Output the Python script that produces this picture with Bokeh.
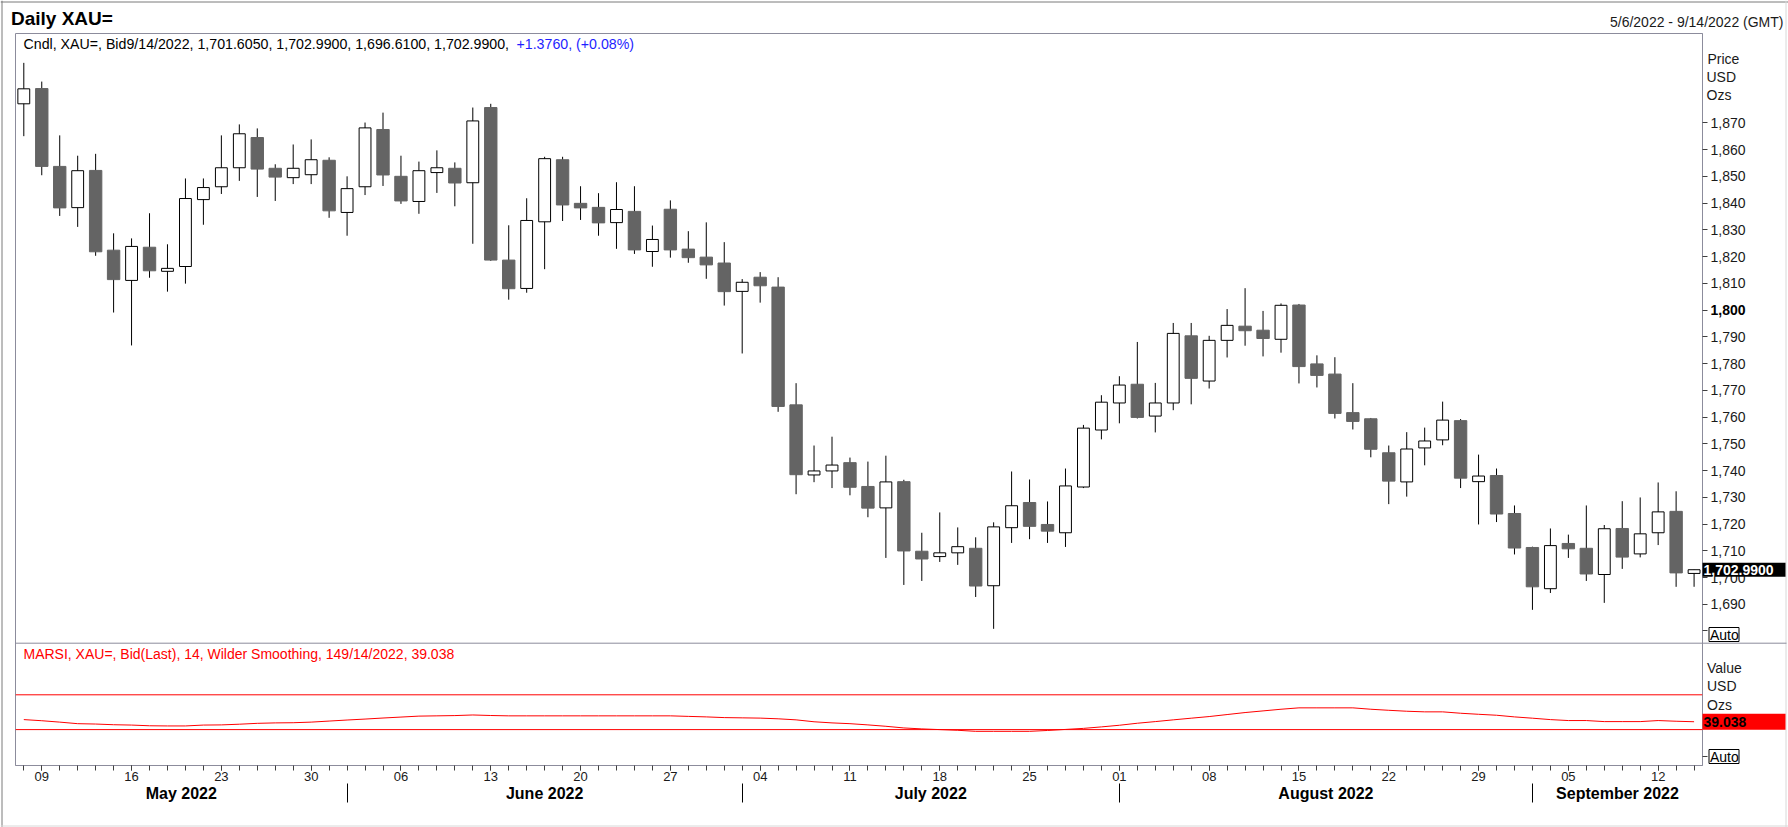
import pandas as pd
from bokeh.plotting import figure
from bokeh.models import (Range1d, LinearAxis, FixedTicker, Span, Label,
                          NumeralTickFormatter, ColumnDataSource)
from bokeh.embed import file_html
from bokeh.resources import INLINE

# ---------------- data ----------------
dates = pd.bdate_range("2022-05-06", "2022-09-14")

opens = [1877.1, 1882.8, 1853.7, 1838.3, 1852.2, 1822.4, 1811.1, 1823.5, 1814.5, 1816.3,
         1841.3, 1846.1, 1853.2, 1864.5, 1853.0, 1849.5, 1850.6, 1856.0, 1836.5, 1846.1,
         1867.5, 1850.0, 1840.6, 1851.4, 1853.0, 1847.6, 1875.7, 1818.7, 1808.1, 1833.0,
         1856.2, 1839.9, 1838.4, 1832.7, 1836.9, 1821.9, 1837.7, 1822.8, 1819.8, 1817.6,
         1807.0, 1812.3, 1808.6, 1764.6, 1738.4, 1739.9, 1743.0, 1734.1, 1726.1, 1735.9,
         1709.9, 1707.9, 1709.3, 1711.0, 1697.0, 1718.7, 1728.1, 1719.9, 1716.8, 1733.9,
         1755.2, 1765.3, 1772.3, 1760.4, 1765.3, 1790.4, 1773.5, 1788.7, 1794.0, 1792.5,
         1789.1, 1801.9, 1779.9, 1776.1, 1761.7, 1759.4, 1746.7, 1735.8, 1748.5, 1751.5,
         1758.7, 1735.9, 1738.2, 1724.0, 1711.3, 1695.9, 1712.8, 1711.0, 1701.2, 1718.4,
         1708.9, 1716.8, 1724.8, 1701.605]
highs = [1892.4, 1885.4, 1865.3, 1857.7, 1858.4, 1828.7, 1826.8, 1836.2, 1824.6, 1849.2,
         1849.2, 1865.3, 1869.4, 1867.9, 1854.5, 1861.9, 1863.8, 1857.1, 1850.0, 1870.1,
         1873.8, 1857.7, 1855.5, 1859.7, 1855.2, 1875.7, 1877.1, 1831.7, 1841.8, 1857.3,
         1857.3, 1846.3, 1843.7, 1847.8, 1846.3, 1831.6, 1841.0, 1829.5, 1832.8, 1825.4,
         1811.6, 1814.2, 1812.3, 1772.7, 1749.4, 1752.7, 1744.9, 1743.4, 1745.6, 1736.6,
         1716.8, 1724.4, 1718.8, 1715.1, 1720.7, 1739.7, 1736.7, 1728.5, 1740.8, 1757.1,
         1768.2, 1775.3, 1788.1, 1772.8, 1795.2, 1795.2, 1790.4, 1800.4, 1808.2, 1799.7,
         1802.5, 1802.3, 1783.1, 1782.4, 1772.7, 1759.7, 1749.4, 1754.4, 1756.1, 1765.8,
         1759.3, 1746.0, 1740.8, 1727.0, 1711.6, 1718.4, 1716.1, 1727.0, 1719.7, 1728.6,
         1730.0, 1735.6, 1732.3, 1702.99]
lows = [1865.0, 1850.4, 1835.2, 1831.1, 1820.3, 1799.1, 1786.8, 1812.1, 1806.9, 1809.9,
        1831.9, 1843.4, 1848.3, 1842.3, 1840.8, 1847.1, 1847.1, 1834.5, 1827.8, 1843.0,
        1846.4, 1839.7, 1836.0, 1843.8, 1838.8, 1824.8, 1818.4, 1803.9, 1806.5, 1815.3,
        1833.3, 1833.7, 1827.8, 1822.9, 1821.0, 1816.2, 1819.6, 1817.7, 1811.7, 1801.7,
        1783.8, 1802.8, 1762.0, 1731.2, 1735.7, 1733.5, 1730.8, 1722.6, 1707.4, 1697.3,
        1698.8, 1705.9, 1704.8, 1692.8, 1680.9, 1713.0, 1714.4, 1713.0, 1711.5, 1733.5,
        1751.7, 1757.7, 1759.5, 1754.3, 1762.6, 1764.8, 1770.7, 1782.3, 1786.7, 1782.7,
        1784.1, 1772.6, 1771.1, 1759.5, 1755.4, 1745.0, 1727.5, 1730.3, 1742.0, 1749.5,
        1733.5, 1719.9, 1720.8, 1708.7, 1688.0, 1694.3, 1707.4, 1698.8, 1690.6, 1703.3,
        1707.6, 1712.2, 1696.6, 1696.61]
closes = [1882.7, 1853.7, 1838.2, 1852.1, 1821.8, 1811.4, 1823.8, 1814.7, 1815.6, 1841.7,
          1845.8, 1853.2, 1865.9, 1852.7, 1849.7, 1853.0, 1856.2, 1837.1, 1845.4, 1868.1,
          1850.5, 1840.8, 1852.1, 1853.2, 1847.5, 1870.7, 1818.7, 1808.0, 1833.5, 1856.6,
          1839.3, 1838.2, 1832.6, 1837.6, 1822.5, 1826.4, 1822.5, 1819.6, 1816.9, 1806.9,
          1810.4, 1809.1, 1764.0, 1738.5, 1739.9, 1742.1, 1733.8, 1726.0, 1735.8, 1710.0,
          1707.0, 1709.3, 1711.6, 1696.9, 1719.0, 1726.9, 1719.2, 1717.4, 1734.3, 1755.9,
          1765.6, 1772.0, 1759.9, 1765.3, 1791.3, 1774.5, 1788.7, 1794.3, 1792.3, 1789.4,
          1801.8, 1778.9, 1775.6, 1761.4, 1758.4, 1748.0, 1736.1, 1748.1, 1751.1, 1758.9,
          1737.2, 1738.0, 1723.8, 1711.1, 1696.6, 1712.0, 1710.8, 1701.4, 1718.3, 1707.7,
          1716.4, 1724.6, 1701.8, 1702.99]
rsi = [41.5, 40.2, 38.6, 36.8, 36.4, 35.6, 35.2, 34.4, 34.2, 34.2,
       35.2, 35.4, 36.2, 37.2, 37.7, 37.9, 38.6, 39.8, 41.0, 42.1,
       43.3, 44.4, 45.5, 45.8, 46.1, 46.8, 46.2, 45.8, 45.8, 45.8,
       45.8, 45.8, 45.8, 45.8, 45.8, 45.8, 45.8, 45.2, 44.6, 43.8,
       43.5, 43.2, 42.4, 41.2, 39.0, 37.7, 36.8, 35.4, 33.8, 31.9,
       30.8, 30.0, 29.2, 28.0, 28.0, 28.0, 28.0, 29.0, 30.2, 31.4,
       33.1, 35.0, 37.3, 39.2, 41.2, 43.1, 45.0, 47.3, 49.6, 51.5,
       53.4, 55.0, 55.0, 55.0, 55.0, 53.4, 52.2, 51.1, 50.4, 50.4,
       48.8, 47.6, 46.5, 44.6, 43.1, 41.5, 40.4, 40.4, 39.2, 39.2,
       39.2, 40.4, 39.6, 39.038]
rsi_levels = [70, 30]

price_ticks = [1690, 1700, 1710, 1720, 1730, 1740, 1750, 1760, 1770, 1780,
               1790, 1800, 1810, 1820, 1830, 1840, 1850, 1860, 1870]
bold_tick = 1800
month_names = ["May 2022", "June 2022", "July 2022", "August 2022", "September 2022"]
title_text = "Daily XAU="
range_text = "5/6/2022 - 9/14/2022 (GMT)"
header_black = "Cndl, XAU=, Bid9/14/2022, 1,701.6050, 1,702.9900, 1,696.6100, 1,702.9900,"
header_blue = "+1.3760, (+0.08%)"
rsi_header = "MARSI, XAU=, Bid(Last),  14, Wilder Smoothing, 149/14/2022, 39.038"
last_price_text = "1,702.9900"
last_rsi_text = "39.038"

# ---------------- pixel <-> data helpers ----------------
W, H = 1788, 827
FL, FR, FT, FB = 15, 1702, 33, 765          # frame edges (px)
PX0, PXS = 23.3, 17.96                      # first candle px, px per day
PY0, PYS = 122.3, 2.676                     # px of 1870, px per USD
RY70, RY30 = 694.3, 729.1                   # px of RSI 70 / 30
RSC = (RY30 - RY70) / 40.0
SEP_Y = 642.7


def X(px):
    return (px - PX0) / PXS


def Y(py):
    return 1870 - (py - PY0) / PYS


def px_of_x(x):
    return PX0 + x * PXS


def py_of_price(v):
    return PY0 + (1870 - v) * PYS


def py_of_rsi(v):
    return RY30 - (v - 30) * RSC


FONT = "Liberation Sans"
GRAY = "#8c8c9c"

n = len(dates)
idx = list(range(n))

# ================= main chart (real scales and axes) =================
p = figure(width=W, height=H, output_backend="svg", toolbar_location=None,
           x_range=Range1d(X(FL), X(FR)), y_range=Range1d(Y(FB), Y(FT)),
           y_axis_location="right",
           min_border_left=FL, min_border_right=W - FR,
           min_border_top=FT, min_border_bottom=H - FB)
p.styles = {"position": "absolute", "left": "0px", "top": "0px"}
p.extra_y_ranges = {"rsi": Range1d(30 - (FB - RY30) / RSC, 70 + (RY70 - FT) / RSC)}
p.grid.visible = False
p.background_fill_color = "white"
p.border_fill_color = "white"
p.outline_line_color = GRAY
p.outline_line_width = 1

# candles
src = ColumnDataSource(dict(x=idx, h=highs, l=lows))
up = [i for i in idx if closes[i] >= opens[i]]
dn = [i for i in idx if closes[i] < opens[i]]
up_src = ColumnDataSource(dict(x=up, top=[closes[i] for i in up], bottom=[opens[i] for i in up]))
dn_src = ColumnDataSource(dict(x=dn, top=[opens[i] for i in dn], bottom=[closes[i] for i in dn]))

p.segment(x0="x", y0="l", x1="x", y1="h", source=src, line_color="black", line_width=1)
p.vbar(x="x", width=0.69, top="top", bottom="bottom", source=dn_src,
       fill_color="#646464", line_color="#646464", line_width=1)
p.vbar(x="x", width=0.66, top="top", bottom="bottom", source=up_src,
       fill_color="white", line_color="black", line_width=1)

# RSI panel
for lv in rsi_levels:
    p.add_layout(Span(location=lv, dimension="width", y_range_name="rsi",
                      line_color="#ff0000", line_width=1))
p.line(idx, rsi, y_range_name="rsi", line_color="#ff0000", line_width=1)

# right price axis
AUTO1, AUTO2 = Y(630), Y(756)
yax = p.yaxis[0]
yax.ticker = FixedTicker(ticks=price_ticks + [AUTO1, AUTO2])
yax.formatter = NumeralTickFormatter(format="0,0")
yax.major_label_overrides = {bold_tick: "", AUTO1: "", AUTO2: ""}
yax.axis_line_color = GRAY
yax.major_tick_line_color = "#404040"
yax.major_tick_out = 5
yax.major_tick_in = 0
yax.minor_tick_out = 0
yax.minor_tick_in = 0
yax.major_label_standoff = 3
yax.major_label_text_font = FONT
yax.major_label_text_font_size = "14px"
yax.major_label_text_color = "#1a1a1a"

# bottom day axis
mondays = [i for i in idx if dates[i].weekday() == 0]
xax = p.xaxis[0]
xax.ticker = FixedTicker(ticks=mondays, minor_ticks=idx)
xax.major_label_overrides = {i: dates[i].strftime("%d") for i in mondays}
xax.axis_line_color = GRAY
xax.major_tick_line_color = "#404040"
xax.minor_tick_line_color = "#404040"
xax.major_tick_out = 5
xax.major_tick_in = 0
xax.minor_tick_out = 5
xax.minor_tick_in = 0
xax.major_label_standoff = 1
xax.major_label_text_font = FONT
xax.major_label_text_font_size = "13px"
xax.major_label_text_color = "#1a1a1a"

# month separators (second axis below)
month_starts = [i for i in idx if i > 0 and dates[i].month != dates[i - 1].month]
xax2 = LinearAxis(ticker=FixedTicker(ticks=month_starts))
xax2.major_label_overrides = {i: "" for i in month_starts}
xax2.axis_line_color = None
xax2.major_tick_out = 19
xax2.major_tick_in = 0
xax2.major_tick_line_color = "black"
xax2.minor_tick_out = 0
xax2.minor_tick_in = 0
xax2.major_label_text_font_size = "1px"
p.add_layout(xax2, "below")

# ================= overlay in page pixels (frame texts & boxes) =================
ov = figure(width=W, height=H, output_backend="svg", toolbar_location=None,
            x_range=Range1d(0, W), y_range=Range1d(H, 0),
            x_axis_location=None, y_axis_location=None,
            min_border=0, min_border_left=0, min_border_right=0,
            min_border_top=0, min_border_bottom=0)
ov.styles = {"position": "absolute", "left": "0px", "top": "0px"}
ov.grid.visible = False
ov.outline_line_color = None
ov.background_fill_color = None
ov.border_fill_color = None


def text(px, py, s, size="14px", color="#1a1a1a", bold=False, align="left"):
    ov.add_layout(Label(x=px, y=py, text=s, text_font=FONT, text_font_size=size,
                        text_color=color, text_align=align, text_baseline="middle",
                        text_font_style="bold" if bold else "normal"))


# outer border and panel separator
ov.segment(x0=[0, 1.5, 0, 1785.5], y0=[1.5, 0, 825.5, 0],
           x1=[1788, 1.5, 1788, 1785.5], y1=[1.5, 827, 825.5, 827],
           line_color=["#7a7a7a", "#7a7a7a", "#d8d8d8", "#d8d8d8"], line_width=1)
ov.segment(x0=[FL], y0=[SEP_Y], x1=[1786], y1=[SEP_Y], line_color=GRAY, line_width=1)

text(10.5, 17.5, title_text, size="19px", color="black", bold=True)
text(1783, 21, range_text, align="right")
text(23, 43.5, header_black, size="14.2px", color="black")
text(516, 43.5, header_blue, size="14.2px", color="#1f1fff")
text(23, 653.5, rsi_header, color="#ff0000")

text(1707, 58.5, "Price")
text(1706, 76.3, "USD")
text(1706, 94.3, "Ozs")
text(FR + 5 + 3, py_of_price(bold_tick), f"{bold_tick:,}", color="black", bold=True)

text(1706.5, 667.7, "Value")
text(1706.5, 685.7, "USD")
text(1706.5, 704, "Ozs")

# last price marker (box over the axis)
yp = py_of_price(closes[-1])
ov.quad(left=[FR], right=[1785], top=[yp - 7], bottom=[yp + 7], fill_color="black", line_color=None)
text(1703, yp + 0.5, last_price_text, color="white", bold=True)

# last RSI marker
yr = py_of_rsi(rsi[-1])
ov.quad(left=[FR], right=[1785], top=[yr - 8], bottom=[yr + 8], fill_color="#ff0000", line_color=None)
text(1703, yr + 0.5, last_rsi_text, color="black", bold=True)

# "Auto" boxes
for yc in (634, 756):
    ov.quad(left=[1708.5], right=[1738.5], top=[yc - 7], bottom=[yc + 7],
            fill_color="white", line_color="black", line_width=1)
    text(1709.5, yc + 0.5, "Auto", color="black")

# month names centred between month boundaries
edges = [FL] + [px_of_x(i) for i in month_starts] + [FR]
for k, name in enumerate(month_names):
    text((edges[k] + edges[k + 1]) / 2, 793, name, size="16px", color="black",
         bold=True, align="center")

open("out.html", "w").write(file_html([p, ov], INLINE))
